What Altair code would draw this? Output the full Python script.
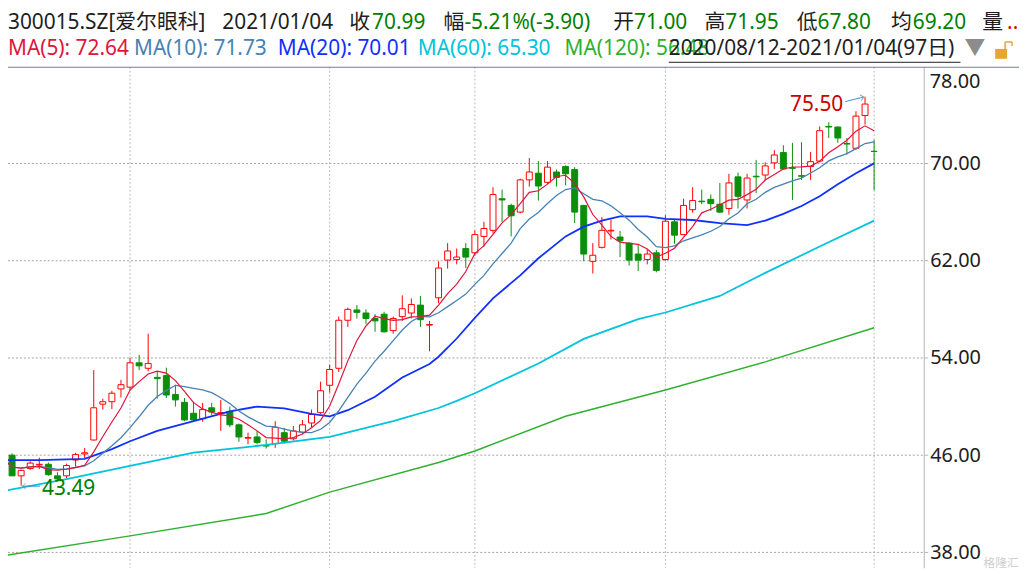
import altair as alt
import pandas as pd

# ---------------- data ----------------
day_index = list(range(97))
open_px = [46.10, 46.00, 44.30, 44.90, 45.20, 45.25, 44.30, 44.30, 45.60, 46.10,
           47.25, 50.20, 50.40, 51.45, 51.60, 53.60, 53.15, 52.40, 52.55, 51.00,
           50.35, 49.45, 49.00, 49.90, 49.45, 49.60, 48.50, 47.40, 47.50, 46.80,
           46.95, 47.85, 47.35, 47.90, 48.65, 49.50, 51.75, 53.15, 57.10, 57.95,
           57.70, 57.25, 57.60, 56.25, 57.40, 57.70, 58.35, 56.70, 58.95, 62.05,
           62.10, 63.00, 62.65, 64.00, 64.50, 67.10, 66.55, 66.00, 68.65, 69.20,
           68.45, 69.30, 69.75, 69.50, 66.55, 61.95, 63.10, 64.45, 63.95, 63.45,
           62.55, 62.10, 62.65, 62.10, 65.20, 64.15, 66.20, 66.90, 67.05, 66.65,
           66.30, 68.90, 67.00, 68.95, 69.05, 70.05, 70.90, 69.65, 69.00, 69.75,
           70.20, 73.05, 73.00, 71.65, 71.25, 73.95, 71.00]
high_px = [46.50, 46.15, 44.80, 45.50, 45.80, 45.40, 44.60, 45.30, 46.20, 46.60,
           53.00, 50.65, 51.30, 52.20, 54.00, 54.25, 56.00, 52.85, 53.20, 51.80,
           50.70, 50.40, 50.30, 50.30, 50.55, 50.00, 48.60, 47.85, 48.00, 47.30,
           48.80, 48.25, 48.40, 48.90, 49.75, 52.05, 53.45, 57.40, 58.15, 58.35,
           58.00, 57.60, 57.80, 57.40, 59.15, 58.90, 59.10, 57.05, 61.95, 63.45,
           63.00, 63.45, 64.50, 65.20, 68.05, 67.85, 66.70, 68.75, 70.45, 70.20,
           70.20, 69.50, 69.85, 69.70, 66.60, 63.45, 65.60, 65.40, 64.45, 63.55,
           63.35, 62.95, 62.90, 65.75, 65.35, 67.10, 68.05, 67.85, 67.45, 68.40,
           69.15, 69.25, 69.15, 70.30, 70.10, 71.10, 71.50, 71.70, 71.75, 70.95,
           73.05, 73.40, 73.05, 72.10, 74.30, 75.50, 71.95]
low_px = [45.00, 44.30, 43.49, 44.80, 44.85, 44.30, 43.85, 44.10, 45.05, 45.75,
          47.20, 49.75, 49.80, 50.75, 51.35, 53.00, 52.90, 50.65, 50.70, 50.00,
          48.80, 48.80, 48.75, 49.30, 48.00, 48.30, 47.10, 46.90, 46.90, 46.55,
          46.60, 46.95, 47.20, 47.75, 48.25, 49.40, 51.15, 52.85, 56.55, 57.25,
          56.80, 56.15, 56.10, 56.00, 57.05, 57.25, 56.55, 54.55, 58.50, 61.35,
          61.70, 61.40, 62.40, 63.15, 64.25, 65.20, 64.00, 65.90, 68.10, 66.95,
          68.30, 68.10, 68.20, 65.10, 61.95, 60.95, 63.00, 63.75, 62.30, 61.60,
          61.15, 61.70, 61.05, 62.00, 63.40, 64.10, 65.95, 66.65, 66.10, 65.95,
          65.80, 66.30, 66.30, 67.55, 68.60, 69.55, 69.50, 67.00, 68.65, 68.65,
          70.10, 72.10, 71.70, 70.75, 71.10, 73.20, 67.80]
close_px = [45.75, 44.30, 44.75, 45.35, 45.25, 44.40, 44.05, 45.15, 46.05, 46.20,
            49.90, 50.40, 51.10, 51.80, 53.60, 53.35, 53.55, 52.30, 50.95, 50.55,
            48.90, 48.90, 49.75, 49.55, 49.50, 48.50, 47.50, 47.45, 47.05, 46.75,
            48.30, 47.15, 48.00, 48.50, 49.35, 51.30, 53.05, 57.10, 58.00, 57.75,
            57.25, 57.05, 56.15, 57.25, 58.05, 58.40, 57.15, 56.75, 61.40, 62.80,
            62.30, 62.30, 64.15, 64.65, 67.45, 67.00, 65.70, 68.65, 69.30, 68.15,
            69.70, 68.85, 69.15, 66.00, 62.55, 62.45, 64.50, 64.50, 63.65, 62.05,
            62.05, 62.55, 61.20, 65.25, 64.10, 66.55, 66.95, 66.85, 66.70, 66.00,
            68.40, 67.30, 68.80, 68.90, 69.80, 70.70, 69.55, 69.60, 68.95, 70.15,
            72.70, 73.00, 72.10, 71.60, 73.90, 74.89, 70.99]

# longer moving averages at sample days
ma20_day = [0, 4, 9, 12, 14, 17, 21, 25, 28, 31, 34, 36, 38, 41, 44, 47, 48, 50, 52, 54,
            57, 59, 62, 64, 66, 68, 71, 73, 76, 79, 82, 84, 86, 88, 90, 92, 94, 96]
ma20_val = [45.6, 45.6, 45.7, 46.5, 47.15, 48.0, 48.8, 49.6, 50.0, 49.85, 49.4, 49.2, 49.7,
            50.8, 52.4, 53.5, 54.1, 55.6, 57.3, 58.9, 60.8, 62.2, 64.0, 64.8, 65.3, 65.65,
            65.65, 65.45, 65.35, 65.1, 64.93, 65.3, 65.85, 66.5, 67.3, 68.3, 69.2, 70.01]
ma60_day = [0, 7, 14, 21, 29, 36, 43, 48, 50, 52, 59, 64, 70, 73, 79, 84, 90, 96]
ma60_val = [43.04, 44.04, 45.13, 46.22, 46.84, 47.5, 48.8, 49.88, 50.47, 51.1, 53.54,
            55.57, 57.2, 57.74, 59.1, 61.0, 63.17, 65.30]
ma120_day = [0, 14, 29, 36, 48, 50, 52, 62, 73, 84, 96]
ma120_val = [37.73, 39.36, 41.2, 42.96, 45.4, 45.87, 46.35, 49.2, 51.37, 53.68, 56.48]

month_start_days = [14, 36, 52, 73, 96]
y_tick_values = [38, 46, 54, 62, 70, 78]

header_row1 = ["300015.SZ[爱尔眼科]", "2021/01/04", "收", "70.99", "幅", "-5.21%(-3.90)",
               "开", "71.00", "高", "71.95", "低", "67.80", "均", "69.20", "量", ".."]
header_row2 = ["MA(5): 72.64", "MA(10): 71.73", "MA(20): 70.01", "MA(60): 65.30",
               "MA(120): 56.48", "2020/08/12-2021/01/04(97日)", "▼"]

# ---------------- styles / layout ----------------
RED = "#ff0000"
GREEN = "#0b8f0b"
INK = "#1e1e1e"
TXT_GREEN = "#008000"
GRID = "#bababa"
HGRID = "#a4a4a4"
C_MA5, C_MA10, C_MA20, C_MA60, C_MA120 = "#e0143c", "#4682b4", "#1030ff", "#00c4dc", "#2fb02f"
FONT = "Noto Sans, Noto Sans CJK SC"

PLOT_W, PLOT_H = 923, 505
PX_PER_UNIT = 12.25
Y_TOP = 70 + 97.5 / PX_PER_UNIT
Y_BOT = Y_TOP - PLOT_H / PX_PER_UNIT
x_scale = alt.Scale(domain=[0.551, 101.47], nice=False, zero=False, padding=0)
y_scale = alt.Scale(domain=[Y_BOT, Y_TOP], nice=False, zero=False, padding=0)

in_domain = [v for v in y_tick_values if v < Y_TOP]
Y_AXIS = alt.Axis(
    orient="right", values=in_domain, format=".2f", title=None, grid=False,
    domainColor="#b4b4b4", tickColor="#b4b4b4", tickSize=4,
    labelFont=FONT, labelFontSize=20, labelColor="#202020", labelPadding=2)


def Y(field):
    return alt.Y(field, scale=y_scale, axis=Y_AXIS)


df = pd.DataFrame({"i": day_index, "open": open_px, "high": high_px,
                   "low": low_px, "close": close_px})
df["dir"] = ["up" if c >= o else "down" for o, c in zip(open_px, close_px)]

X = alt.X("i:Q", scale=x_scale, axis=None)

# grid lines: month starts (vertical) and price ticks (horizontal)
months = alt.Chart(pd.DataFrame({"i": month_start_days})).mark_rule(
    color=GRID, strokeDash=[2, 2], strokeWidth=1).encode(x=X)
hgrid = alt.Chart(pd.DataFrame({"p": [float(v) for v in in_domain]})).mark_rule(
    color=HGRID, strokeDash=[2, 2], strokeWidth=1).encode(
    y=Y("p:Q"), x=alt.value(0), x2=alt.value(PLOT_W))

wicks = alt.Chart(df).mark_rule(strokeWidth=1).encode(
    x=X, y=Y("low:Q"), y2="high:Q",
    color=alt.Color("dir:N", scale=alt.Scale(domain=["up", "down"], range=[RED, GREEN]),
                    legend=None),
)

bodies = alt.Chart(df).mark_bar(size=6, strokeWidth=1).encode(
    x=X, y=Y("open:Q"), y2="close:Q",
    fill=alt.Fill("dir:N", scale=alt.Scale(domain=["up", "down"], range=["#ffffff", GREEN]),
                  legend=None),
    stroke=alt.Stroke("dir:N", scale=alt.Scale(domain=["up", "down"], range=[RED, GREEN]),
                      legend=None),
)

ma5 = alt.Chart(df).transform_window(
    ma="mean(close)", frame=[-4, 0], sort=[alt.SortField("i")]
).mark_line(color=C_MA5, strokeWidth=1.2).encode(x=X, y=Y("ma:Q"))
ma10 = alt.Chart(df).transform_window(
    ma="mean(close)", frame=[-9, 0], sort=[alt.SortField("i")]
).mark_line(color=C_MA10, strokeWidth=1.3).encode(x=X, y=Y("ma:Q"))
ma20 = alt.Chart(pd.DataFrame({"i": ma20_day, "v": ma20_val})).mark_line(
    color=C_MA20, strokeWidth=1.8).encode(x=X, y=Y("v:Q"))
ma60 = alt.Chart(pd.DataFrame({"i": ma60_day, "v": ma60_val})).mark_line(
    color=C_MA60, strokeWidth=1.8).encode(x=X, y=Y("v:Q"))
ma120 = alt.Chart(pd.DataFrame({"i": ma120_day, "v": ma120_val})).mark_line(
    color=C_MA120, strokeWidth=1.5).encode(x=X, y=Y("v:Q"))

# high / low annotations
hi_i = int(df["high"].idxmax()); hi_v = float(df["high"].max())
lo_i = int(df["low"].idxmin()); lo_v = float(df["low"].min())
ann = pd.DataFrame({
    "i": [hi_i, lo_i], "v": [hi_v, lo_v],
    "t": [f"{hi_v:.2f}", f"{lo_v:.2f}"],
})
hi_txt = alt.Chart(ann.iloc[[0]]).mark_text(
    align="right", baseline="middle", dx=-22, dy=8, font=FONT, fontSize=21, color="#c80000"
).encode(x=X, y=Y("v:Q"), text="t:N")
lo_txt = alt.Chart(ann.iloc[[1]]).mark_text(
    align="left", baseline="middle", dx=21, dy=3, font=FONT, fontSize=21, color=TXT_GREEN
).encode(x=X, y=Y("v:Q"), text="t:N")

arrows = pd.DataFrame({
    "x0": [hi_i - 2.19, lo_i + 2.08], "y0": [hi_v - 0.41, lo_v - 0.04],
    "x1": [hi_i - 0.15, lo_i + 0.15], "y1": [hi_v - 0.03, lo_v - 0.04],
})
arrow_lines = alt.Chart(arrows).mark_rule(color="#4a8ec8", strokeWidth=1).encode(
    x=alt.X("x0:Q", scale=x_scale, axis=None), x2="x1:Q", y=Y("y0:Q"), y2="y1:Q")
head_hi = alt.Chart(arrows.iloc[[0]]).mark_point(
    shape="M -1 -1 L 0 0 L -1 1", filled=False, color="#4a8ec8", size=40,
    strokeWidth=1, angle=346).encode(
    x=alt.X("x1:Q", scale=x_scale, axis=None), y=Y("y1:Q"))
head_lo = alt.Chart(arrows.iloc[[1]]).mark_point(
    shape="M 1 -1 L 0 0 L 1 1", filled=False, color="#4a8ec8", size=40,
    strokeWidth=1).encode(
    x=alt.X("x1:Q", scale=x_scale, axis=None), y=Y("y1:Q"))

# top axis label that sits flush below the border
top_label = alt.Chart(pd.DataFrame({"t": [f"{y_tick_values[-1]:.2f}"]})).mark_text(
    align="left", baseline="middle", font=FONT, fontSize=20, color="#202020").encode(
    x=alt.value(929), y=alt.value(15), text="t:N")

# header
row1_x = [0, 216, 344, 367, 439, 460, 610, 631, 702, 723, 795, 816, 890, 912, 982, 1007]
row1_c = [INK, INK, INK, TXT_GREEN, INK, TXT_GREEN, INK, TXT_GREEN, INK, TXT_GREEN,
          INK, TXT_GREEN, INK, TXT_GREEN, INK, "#e00000"]
row2_x = [0, 127, 272, 413, 561, 666, 964]
row2_c = [C_MA5, C_MA10, C_MA20, C_MA60, C_MA120, INK, "#8c8c8c"]
hdr = pd.DataFrame({
    "t": header_row1 + header_row2,
    "px": row1_x + row2_x,
    "py": [-44] * len(header_row1) + [-18] * len(header_row2),
    "c": row1_c + row2_c,
})
header = alt.Chart(hdr).mark_text(
    align="left", baseline="middle", font=FONT, fontSize=21).encode(
    x=alt.X("px:Q", scale=None, axis=None), y=alt.Y("py:Q", scale=None, axis=None),
    text="t:N", color=alt.Color("c:N", scale=None))

underline = alt.Chart(pd.DataFrame({"k": [0]})).mark_rule(color=INK, strokeWidth=1).encode(
    x=alt.value(666), x2=alt.value(960), y=alt.value(-4.5))
border = alt.Chart(pd.DataFrame({"k": [0]})).mark_rule(color="#71808f", strokeWidth=1).encode(
    x=alt.value(0), x2=alt.value(1019), y=alt.value(0.5))
lock_body = alt.Chart(pd.DataFrame({"k": [0]})).mark_rect(color="#e8a531").encode(
    x=alt.value(995), x2=alt.value(1007), y=alt.value(-18), y2=alt.value(-8))
lock_shackle = alt.Chart(pd.DataFrame({"k": [0]})).mark_rule(
    color="#e8a531", strokeWidth=1.5).encode(
    x=alt.value(1005), x2=alt.value(1005), y=alt.value(-18), y2=alt.value(-25))
lock_shackle2 = alt.Chart(pd.DataFrame({"k": [0]})).mark_rule(
    color="#e8a531", strokeWidth=1.5).encode(
    x=alt.value(1005), x2=alt.value(1012), y=alt.value(-25), y2=alt.value(-25))
lock_shackle3 = alt.Chart(pd.DataFrame({"k": [0]})).mark_rule(
    color="#e8a531", strokeWidth=1.5).encode(
    x=alt.value(1012), x2=alt.value(1012), y=alt.value(-25), y2=alt.value(-21))

watermark = alt.Chart(pd.DataFrame({"t": ["格隆汇"]})).mark_text(
    align="left", baseline="middle", font=FONT, fontSize=12, color="#cfcfcf").encode(
    x=alt.value(983), y=alt.value(500), text="t:N")

chart = alt.layer(
    months, hgrid, wicks, bodies, ma120, ma60, ma20, ma10, ma5,
    arrow_lines, head_hi, head_lo, hi_txt, lo_txt, top_label,
    header, underline, border, lock_body, lock_shackle, lock_shackle2, lock_shackle3,
    watermark,
).properties(
    width=PLOT_W, height=PLOT_H,
    padding={"left": 0, "top": 57, "right": 96, "bottom": 0},
    autosize=alt.AutoSizeParams(type="none"),
    background="#ffffff",
).configure_view(strokeWidth=0)

chart.save("out.html", embed_options={"renderer": "svg", "actions": False})
